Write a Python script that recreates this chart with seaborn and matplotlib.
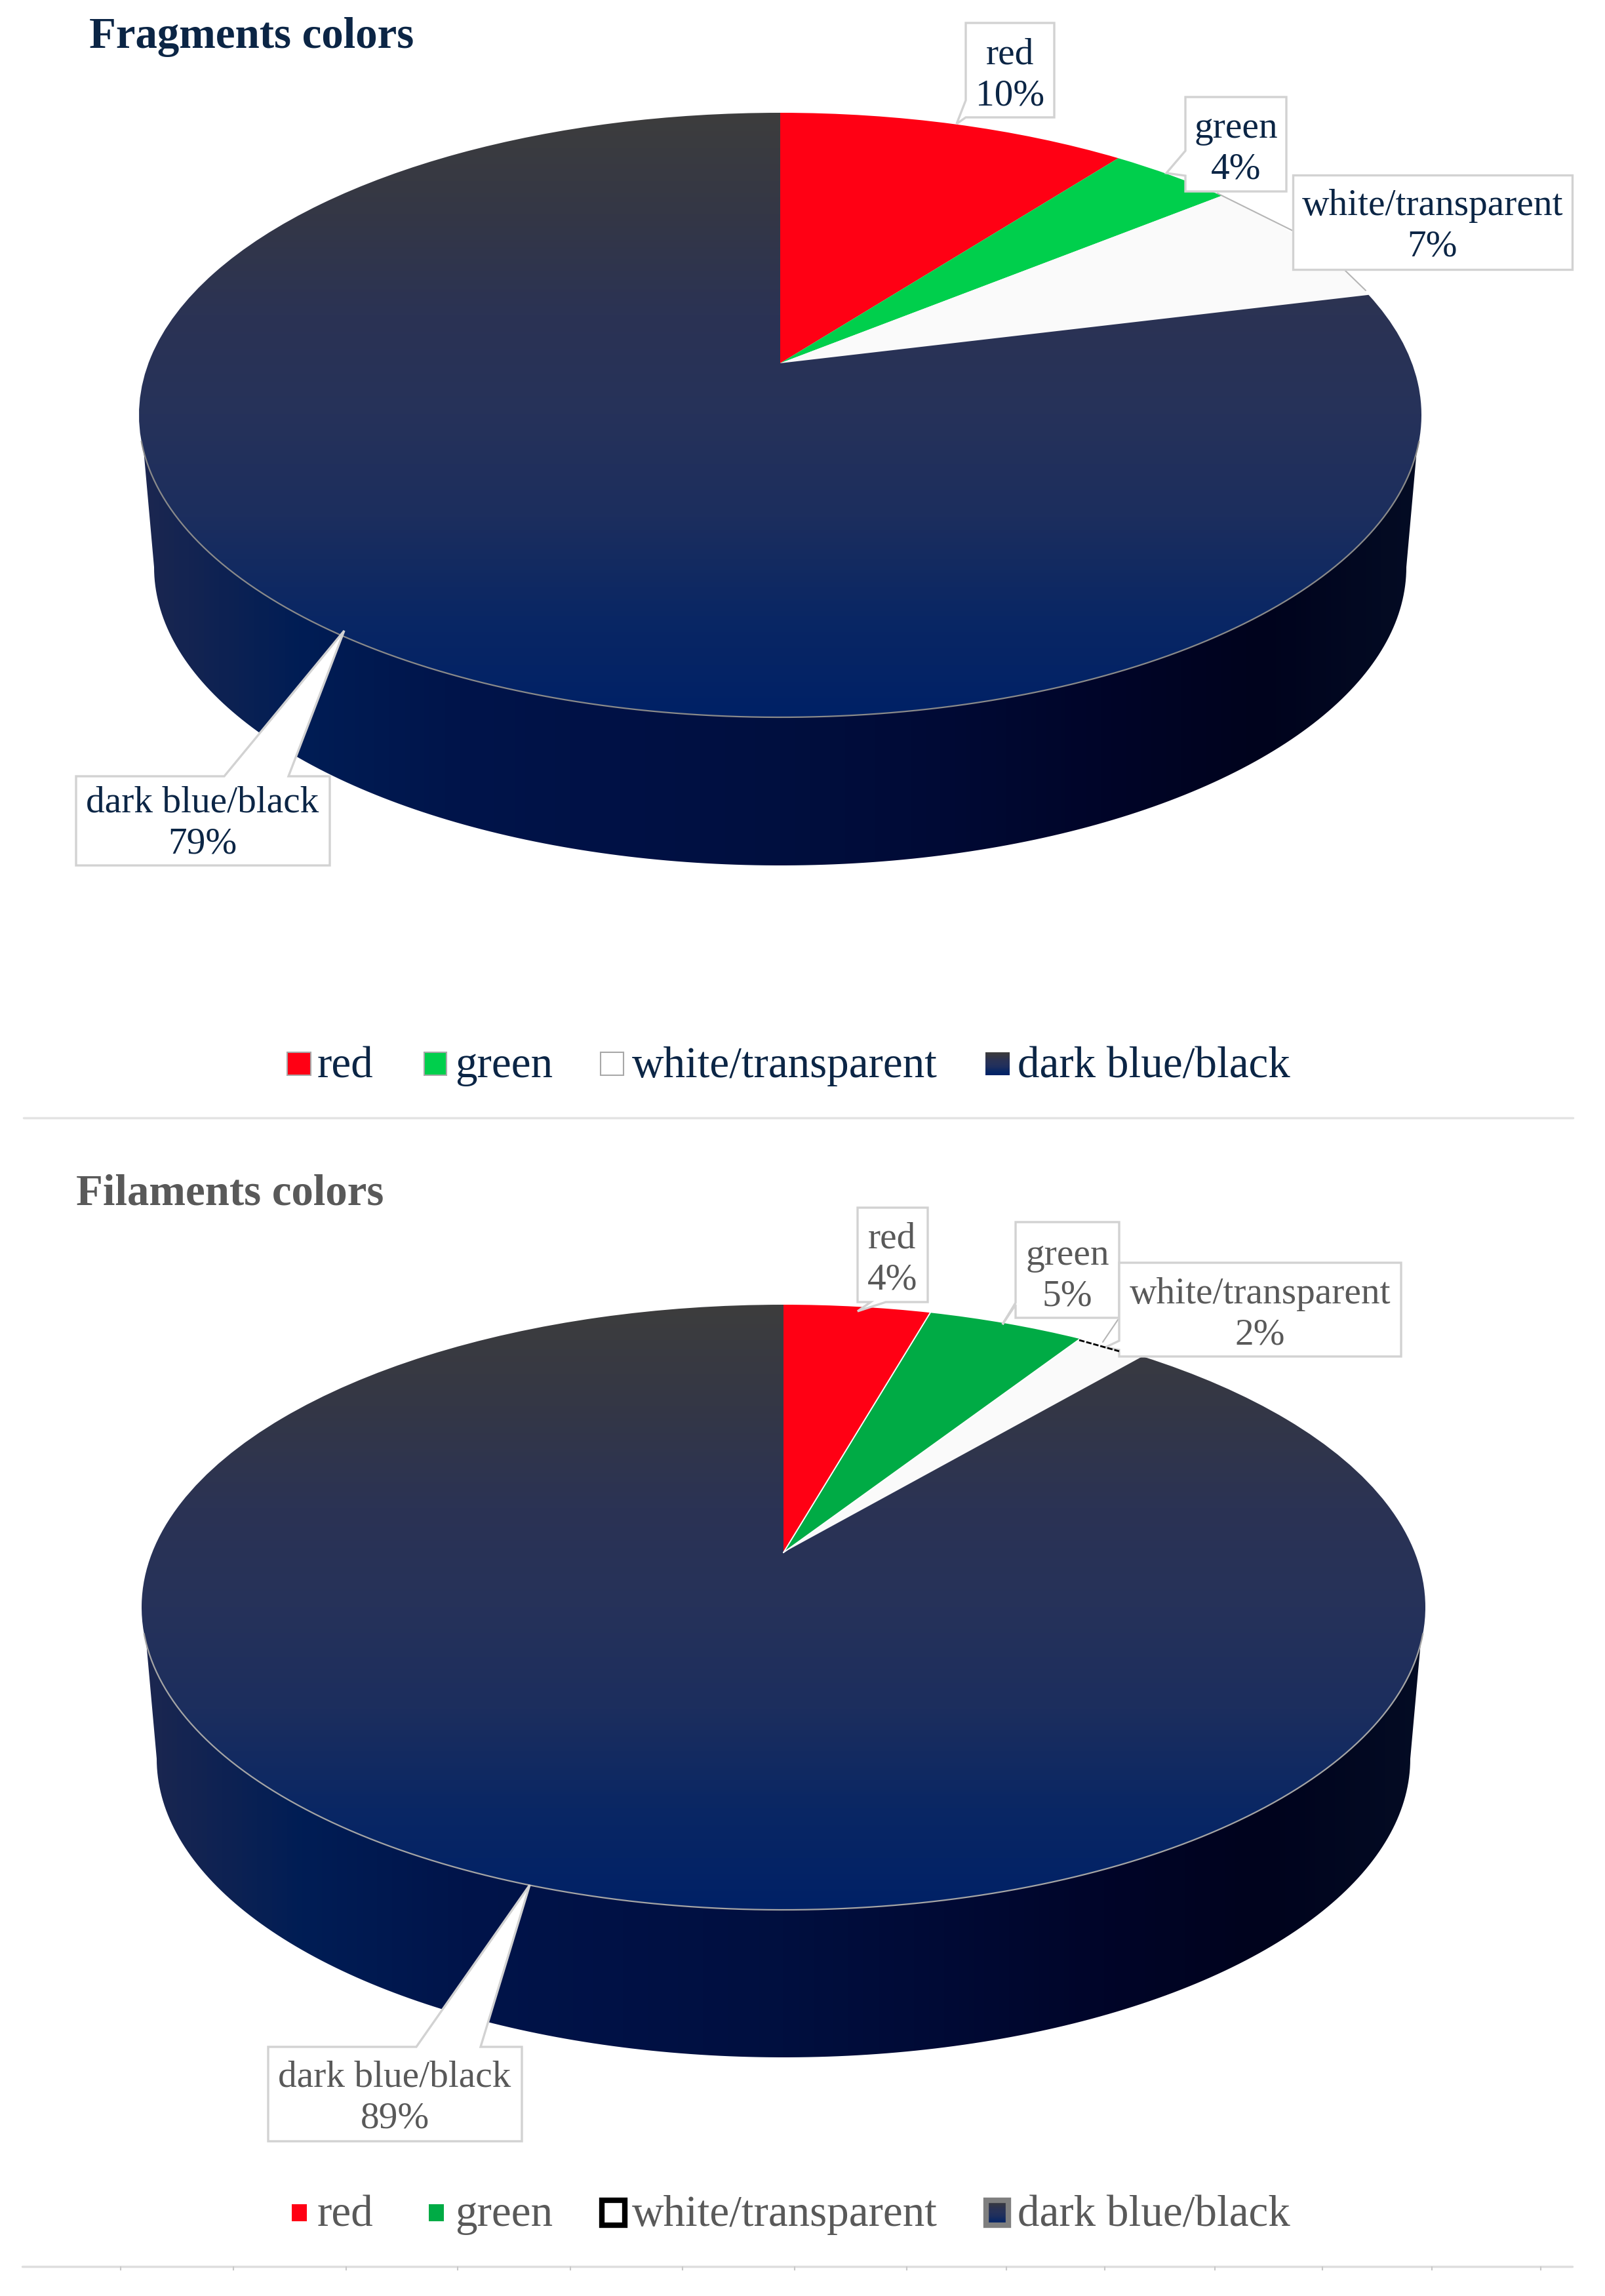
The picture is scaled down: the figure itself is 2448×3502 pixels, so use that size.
import numpy as np
import matplotlib
matplotlib.use("Agg")
import matplotlib.pyplot as plt
import seaborn as sns
from matplotlib.patches import Polygon, Rectangle
from matplotlib.transforms import Transform

# data
categories = ["red", "green", "white/transparent", "dark blue/black"]
fragments_values = [10.4, 3.7, 7, 78.9]
fragments_labels = ["10%", "4%", "7%", "79%"]
filaments_values = [4.4, 4.7, 2.1, 88.8]
filaments_labels = ["4%", "5%", "2%", "89%"]
fragments_colors = ["#ff0014", "#00cf4c", "#fafafa", "none"]
filaments_colors = ["#ff0014", "#00ab45", "#fafafa", "none"]

bottom_ticks = [184, 356, 528, 698, 870, 1041, 1212, 1383, 1535, 1685, 1853, 2017, 2184, 2350]

sns.set_theme(style="white")
plt.rcParams["font.family"] = ["Liberation Serif", "DejaVu Serif"]

top_cmap = sns.blend_palette(["#3d3d3d", "#343746", "#2b3354", "#26325a", "#1c2e5e", "#0a2764", "#002166"], as_cmap=True)
side_cmap = sns.blend_palette(["#1c2750", "#001d55", "#00144a", "#001145", "#000f3f", "#000a35", "#000529", "#00031d", "#040c24"], as_cmap=True)


# maps the unit disc of the pie onto the tilted top of the cylinder
class DiscToPage(Transform):
    input_dims = 2
    output_dims = 2
    is_separable = False
    has_inverse = False

    def __init__(self, x0, y0, top, bottom, half_width):
        super().__init__()
        up, down = y0 - top, bottom - y0
        self.x0, self.y0 = x0, y0
        self.c = (down - up) / (down + up)
        self.a = up * (1 + self.c)
        self.d = half_width * np.sqrt(1 - self.c ** 2)

    def transform_non_affine(self, values):
        values = np.asarray(values, dtype=float)
        w = 1 + self.c * values[:, 1]
        return np.column_stack([self.x0 + self.d * values[:, 0] / w,
                                self.y0 - self.a * values[:, 1] / w])


def draw_pie(ax, values, colors, apex, top, bottom, half_width, side_bottom, split, rim):
    x0, y0 = apex
    disc = DiscToPage(x0, y0, top, bottom, half_width)
    trans = disc + ax.transData

    # side wall between front of top ellipse and bottom ellipse
    cy, ry = (top + bottom) / 2, (bottom - top) / 2
    low_ry = ry - 6
    low_cy = side_bottom - low_ry
    low_rx = half_width - 23
    phi = np.radians(np.linspace(7, 173, 200))
    phi2 = np.radians(np.linspace(180, 0, 200))
    wall = np.vstack([
        np.column_stack([x0 + half_width * np.cos(phi), cy + ry * np.sin(phi)]),
        np.column_stack([x0 + low_rx * np.cos(phi2), low_cy + low_ry * np.sin(phi2)]),
    ])
    wall_patch = Polygon(wall, closed=True, facecolor="none", edgecolor="none", transform=ax.transData)
    ax.add_patch(wall_patch)
    im = ax.imshow(np.linspace(0, 1, 256)[None, :], cmap=side_cmap, aspect="auto", zorder=2,
                   extent=(x0 - half_width, x0 + half_width, side_bottom, cy))
    im.set_clip_path(wall_patch)

    wedges, _ = ax.pie(values, colors=["white"] * len(values), startangle=90, counterclock=False)
    for w, col in zip(wedges, colors):
        w.set_transform(trans)
        w.set_zorder(3)
        w.set_edgecolor("none")
        if col == "none":
            w.set_facecolor("none")
            im2 = ax.imshow(np.linspace(0, 1, 256)[:, None], cmap=top_cmap, aspect="auto", zorder=3,
                            extent=(x0 - half_width, x0 + half_width, bottom, top))
            im2.set_clip_path(w)
        else:
            w.set_facecolor(col)

    # thin white split between the coloured slices
    if split:
        ang = np.radians(np.cumsum(values)[:2] * 3.6)
        for a in ang:
            ax.plot([0, np.sin(a)], [0, np.cos(a)], color="white", lw=1.4, zorder=4, transform=trans)

    # grey rim on the front edge
    phi3 = np.radians(np.linspace(5, 175, 300))
    ax.plot(x0 + half_width * np.cos(phi3), cy + ry * np.sin(phi3), color=rim, lw=1.6, zorder=4)


def draw_callout(ax, verts, center, name, pct, color):
    ax.add_patch(Polygon(verts, closed=True, facecolor="white", edgecolor="#d2d2d2", lw=2.4, zorder=5))
    ax.text(center[0], center[1], f"{name}\n{pct}", ha="center", va="center", fontsize=41.3,
            color=color, linespacing=1.27, zorder=6)


def draw_legend(ax, text_x, baseline, color):
    for name, tx in zip(categories, text_x):
        ax.text(tx, baseline, name, fontsize=48.3, color=color, va="baseline", ha="left", zorder=6)


fig = plt.figure(figsize=(24.48, 35.02), dpi=100, facecolor="white")
ax = fig.add_axes([0, 0, 1, 1])

# ---- Fragments
draw_pie(ax, fragments_values, fragments_colors, (1190, 554), 172, 1094, 978, 1320, False, "#8a8a8a")
ax.text(136, 73, "Fragments colors", fontsize=48.2, fontweight="bold", color="#0b2545", va="baseline")

frag_boxes = [
    [(1473, 35), (1608, 35), (1608, 179), (1473, 179), (1459, 189), (1473, 153)],
    [(1808, 148), (1962, 148), (1962, 292), (1808, 292), (1808, 268), (1779, 264), (1808, 230)],
    [(1972, 267), (2398, 267), (2398, 411), (1972, 411)],
    [(116, 1184), (342, 1184), (525, 962), (440, 1184), (503, 1184), (503, 1320), (116, 1320)],
]
frag_centers = [(1541, 115), (1885, 227), (2185, 345), (309, 1256)]
for verts, center, name, pct in zip(frag_boxes, frag_centers, categories, fragments_labels):
    draw_callout(ax, verts, center, name, pct, "#0b2545")
ax.plot([1857, 1972], [295, 352], color="#b5b5b5", lw=1.5, zorder=4)
ax.plot([2050, 2083], [411, 443], color="#b5b5b5", lw=1.5, zorder=4)

frag_swatches = [(438, 474), (647, 681), (916, 951), (1503, 1540)]
frag_text_x = [484, 694, 964, 1552]
draw_legend(ax, frag_text_x, 1643, "#0b2545")
for (x1, x2), col in zip(frag_swatches[:2], fragments_colors[:2]):
    ax.add_patch(Rectangle((x1, 1605), x2 - x1, 35, facecolor=col, edgecolor="#a8a8a8", lw=1.5, zorder=6))
x1, x2 = frag_swatches[2]
ax.add_patch(Rectangle((x1, 1605), x2 - x1, 35, facecolor="white", edgecolor="#a8a8a8", lw=1.5, zorder=6))
x1, x2 = frag_swatches[3]
ax.imshow(np.linspace(0, 1, 32)[:, None], cmap=top_cmap, aspect="auto", zorder=6, extent=(x1, x2, 1640, 1605))

ax.plot([36, 2399], [1705, 1705], color="#e3e3e3", lw=2.5, zorder=1)

# ---- Filaments
draw_pie(ax, filaments_values, filaments_colors, (1195, 2368), 1990, 2913, 979, 3138, True, "#a5a5a5")
ax.text(116, 1837, "Filaments colors", fontsize=48.2, fontweight="bold", color="#595959", va="baseline")

fil_boxes = [
    [(1308, 1842), (1415, 1842), (1415, 1986), (1351, 1986), (1308, 2000), (1328, 1986), (1308, 1986)],
    [(1549, 1864), (1707, 1864), (1707, 2010), (1549, 2010), (1549, 1990), (1529, 2020), (1549, 1987)],
    [(1707, 1926), (2137, 1926), (2137, 2069), (1707, 2069), (1707, 2059), (1686, 2055), (1707, 2045)],
    [(409, 3122), (635, 3122), (808, 2875), (733, 3122), (796, 3122), (796, 3266), (409, 3266)],
]
fil_centers = [(1361, 1921), (1628, 1946), (1922, 2005), (602, 3200)]
for verts, center, name, pct in zip(fil_boxes, fil_centers, categories, filaments_labels):
    draw_callout(ax, verts, center, name, pct, "#595959")
ax.plot([1705, 1682], [2013, 2047], color="#b5b5b5", lw=1.5, zorder=4)
ax.plot([1646, 1707], [2044, 2061], color="black", lw=2, ls=(0, (3, 1)), zorder=6)

fil_swatches = [(445, 468), (654, 677), (914, 957), (1500, 1542)]
fil_text_x = [484, 694, 964, 1552]
draw_legend(ax, fil_text_x, 3395, "#595959")
for (x1, x2), col in zip(fil_swatches[:2], filaments_colors[:2]):
    ax.add_patch(Rectangle((x1, 3362), x2 - x1, 26, facecolor=col, edgecolor="none", zorder=6))
x1, x2 = fil_swatches[2]
ax.add_patch(Rectangle((x1 + 4, 3356), x2 - x1 - 8, 38, facecolor="white", edgecolor="black", lw=6, zorder=6))
x1, x2 = fil_swatches[3]
ax.imshow(np.linspace(0, 1, 32)[:, None], cmap=top_cmap, aspect="auto", zorder=6, extent=(x1, x2, 3394, 3356))
ax.add_patch(Rectangle((x1 + 4, 3356), x2 - x1 - 8, 38, facecolor="none", edgecolor="#7f7f7f", lw=6, zorder=7))

ax.plot([34, 2398], [3457, 3457], color="#dedede", lw=2.5, zorder=1)
ax.vlines(bottom_ticks, 3457, 3463, color="#c8c8c8", lw=1.5, zorder=1)

ax.set_aspect("auto")
ax.set_xlim(0, 2448)
ax.set_ylim(3502, 0)
ax.axis("off")

fig.savefig("out.png", dpi=100, facecolor="white")
